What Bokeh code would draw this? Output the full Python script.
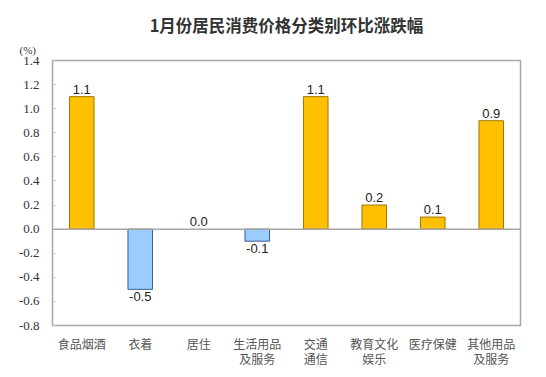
from bokeh.plotting import figure
from bokeh.models import ColumnDataSource, FixedTicker, PrintfTickFormatter, Title, Span, CDSView, IndexFilter
from bokeh.core.properties import value
from bokeh.embed import file_html
from bokeh.resources import INLINE

categories = ["食品烟酒", "衣着", "居住", "生活用品\n及服务", "交通\n通信", "教育文化\n娱乐", "医疗保健", "其他用品\n及服务"]
values = [1.1, -0.5, 0.0, -0.1, 1.1, 0.2, 0.1, 0.9]
value_labels = ["1.1", "-0.5", "0.0", "-0.1", "1.1", "0.2", "0.1", "0.9"]
y_ticks = [-0.8, -0.6, -0.4, -0.2, 0.0, 0.2, 0.4, 0.6, 0.8, 1.0, 1.2, 1.4]

fill = ["#FFC000" if v >= 0 else "#99CCFF" for v in values]
line = [None if v == 0 else ("#A07800" if v > 0 else "#3A5F8A") for v in values]

src = ColumnDataSource(dict(cat=categories, val=values, fill=fill, line=line, lab=value_labels))

p = figure(width=546, height=377, x_range=categories, y_range=(-0.8, 1.4),
           title="1月份居民消费价格分类别环比涨跌幅",
           output_backend="svg", toolbar_location=None,
           min_border_left=52, min_border_right=26, min_border_top=60, min_border_bottom=52)
p.background_fill_color = "white"
p.border_fill_color = "white"
p.outline_line_color = "#A6A6A6"
p.outline_line_width = 1.5
p.xgrid.visible = False
p.ygrid.visible = False
p.x_range.range_padding = 0

p.vbar(x="cat", top="val", bottom=0, width=0.42, fill_color="fill", line_color="line",
       line_width=1, source=src)

p.add_layout(Span(location=0, dimension="width", line_color="#A6A6A6", line_width=1.5))

pos = [i for i, v in enumerate(values) if v >= 0]
neg = [i for i, v in enumerate(values) if v < 0]
p.text(x="cat", y="val", text="lab", source=src, view=CDSView(filter=IndexFilter(pos)),
       text_align="center", text_baseline="bottom", y_offset=-3,
       text_font_size="13px", text_color="#222222", text_font=value("Liberation Sans"))
p.text(x="cat", y="val", text="lab", source=src, view=CDSView(filter=IndexFilter(neg)),
       text_align="center", text_baseline="top", y_offset=3,
       text_font_size="13px", text_color="#222222", text_font=value("Liberation Sans"))

p.yaxis.ticker = FixedTicker(ticks=y_ticks)
p.yaxis.formatter = PrintfTickFormatter(format="%.1f")
p.yaxis.major_label_text_font = "Liberation Serif"
p.yaxis.major_label_text_font_size = "13px"
p.yaxis.major_label_text_color = "#333333"
p.yaxis.axis_line_color = None
p.yaxis.major_tick_line_color = "#C0C0C0"
p.yaxis.major_tick_in = 3
p.yaxis.major_tick_out = 0
p.yaxis.minor_tick_line_color = None
p.yaxis.major_label_standoff = 13

p.xaxis.axis_line_color = None
p.xaxis.major_tick_line_color = None
p.xaxis.major_label_text_font = "Noto Sans CJK SC"
p.xaxis.major_label_text_font_size = "12px"
p.xaxis.major_label_text_color = "#555555"
p.xaxis.major_label_text_line_height = 0.9
p.xaxis.major_label_standoff = 3

unit_title = Title(text="(%)", align="left", offset=-33,
                   text_font="Liberation Serif", text_font_size="11px",
                   text_font_style="normal", text_color="#333333")
unit_title.standoff = 10
unit_title.text_line_height = 0.7
p.add_layout(unit_title, "above")

p.title.align = "center"
p.title.offset = -14
p.title.text_font = "Noto Sans CJK SC"
p.title.text_font_size = "16.5px"
p.title.text_font_style = "bold"
p.title.text_color = "#333333"
p.title.text_line_height = 0.7
p.title.standoff = 0

open("out.html", "w").write(file_html(p, INLINE))
